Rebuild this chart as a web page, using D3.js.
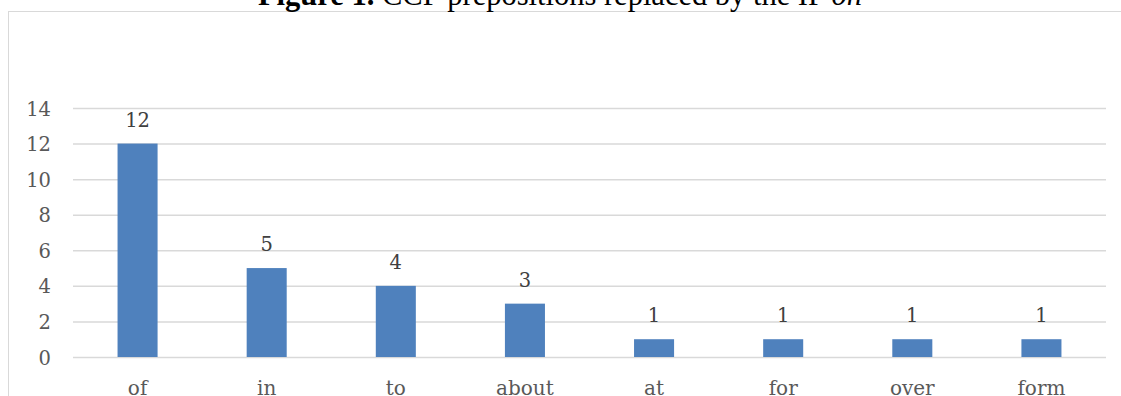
<!DOCTYPE html>
<html><head><meta charset="utf-8">
<script src="https://cdn.jsdelivr.net/npm/d3@7"></script>
<style>html,body{margin:0;padding:0;background:#fff;overflow:hidden}</style>
</head><body>
<script>
const categories = ["of","in","to","about","at","for","over","form"];
const values = [12,5,4,3,1,1,1,1];
const yTicks = [0,2,4,6,8,10,12,14];

const W = 1121, H = 396;
const svg = d3.select("body").append("svg").attr("width", W).attr("height", H);

// chart border
svg.append("rect").attr("x", 8.5).attr("y", 11.5).attr("width", W + 10).attr("height", H + 10)
  .attr("fill", "none").attr("stroke", "#d9d9d9").attr("stroke-width", 1);

const m = {left: 73, right: 1106, top: 108, bottom: 357};
const x = d3.scaleBand().domain(categories).range([m.left, m.right]).paddingInner(0.69).paddingOuter(0.345);
const y = d3.scaleLinear().domain([0, 14]).range([m.bottom, m.top]);
const FONT = "'DejaVu Serif', serif";

// gridlines
const grid = svg.append("g").attr("transform", `translate(${m.left},0)`)
  .call(d3.axisLeft(y).tickValues(yTicks).tickSize(-(m.right - m.left)).tickFormat(""));
grid.select(".domain").remove();
grid.selectAll("line").attr("stroke", "#d9d9d9").attr("stroke-width", 1.5);

// y labels
const ya = svg.append("g").attr("transform", `translate(${m.left},0)`)
  .call(d3.axisLeft(y).tickValues(yTicks).tickSize(0).tickPadding(22));
ya.select(".domain").remove();
ya.selectAll("text").attr("fill", "#595959").attr("dy", "0.36em").style("font-family", FONT).style("font-size", "19.5px");

// bars
svg.append("g").selectAll("rect").data(values).join("rect")
  .attr("x", (d, i) => x(categories[i]))
  .attr("width", x.bandwidth())
  .attr("y", d => y(d))
  .attr("height", d => y(0) - y(d))
  .attr("fill", "#4f81bd");

// data labels
svg.append("g").selectAll("text").data(values).join("text")
  .attr("x", (d, i) => x(categories[i]) + x.bandwidth() / 2)
  .attr("y", d => y(d) - 17)
  .attr("text-anchor", "middle")
  .attr("fill", "#404040")
  .style("font-family", FONT).style("font-size", "19.5px")
  .text(d => d);

// x labels
const xa = svg.append("g").attr("transform", `translate(0,${m.bottom})`)
  .call(d3.axisBottom(x).tickSize(0).tickPadding(0));
xa.select(".domain").remove();
xa.selectAll("text").attr("fill", "#595959").attr("y", 38).attr("dy", null)
  .style("font-family", FONT).style("font-size", "20px");

// title
const t = svg.append("text").attr("x", 560).attr("y", 5).attr("text-anchor", "middle")
  .style("font-family", "'Liberation Serif', serif").style("font-size", "30.5px").attr("fill", "#000");
t.append("tspan").attr("font-weight", "bold").text("Figure 1.");
t.append("tspan").text(" CCF prepositions replaced by the IP ");
t.append("tspan").attr("font-style", "italic").text("on");
</script>
</body></html>
